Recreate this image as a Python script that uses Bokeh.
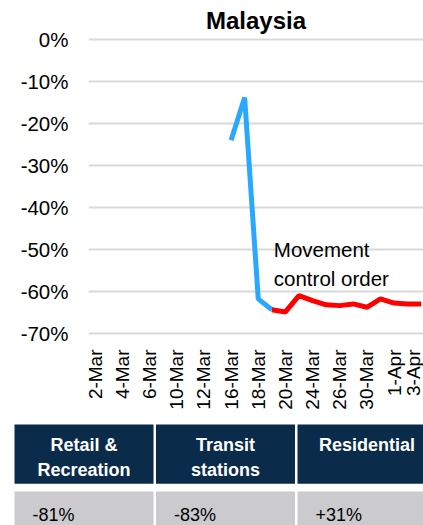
import math
from bokeh.plotting import figure
from bokeh.layouts import column
from bokeh.models import Range1d, FixedTicker, NumeralTickFormatter, ColumnDataSource
from bokeh.core.properties import value
from bokeh.embed import file_html
from bokeh.resources import INLINE

# ---------------- data ----------------
dates = ["2-Mar", "3-Mar", "4-Mar", "5-Mar", "6-Mar", "9-Mar", "10-Mar", "11-Mar",
         "12-Mar", "13-Mar", "16-Mar", "17-Mar", "18-Mar", "19-Mar", "20-Mar",
         "23-Mar", "24-Mar", "25-Mar", "26-Mar", "27-Mar", "30-Mar", "31-Mar",
         "1-Apr", "2-Apr", "3-Apr"]
nan = float("nan")
before_mco = [nan] * 10 + [-0.240, -0.138, -0.618, -0.644] + [nan] * 11
after_mco = [nan] * 13 + [-0.644, -0.649, -0.610, -0.622, -0.632, -0.634, -0.630,
                          -0.638, -0.618, -0.628, -0.630, -0.630]
y_ticks = [-0.7, -0.6, -0.5, -0.4, -0.3, -0.2, -0.1, 0.0]
title_text = "Malaysia"
annotation = "Movement\ncontrol order"
annotation_date = "19-Mar"
annotation_level = -0.472

table_headers = ["Retail &\nRecreation", "Transit\nstations", "Residential"]
table_values = ["-81%", "-83%", "+31%"]

FONT = "Liberation Sans"
idx = list(range(len(dates)))

# ---------------- chart ----------------
p = figure(width=423, height=418, output_backend="svg", toolbar_location=None,
           x_range=Range1d(-0.5, 24.17), y_range=Range1d(-0.71, 0.01),
           min_border_left=88, min_border_right=0, min_border_top=35,
           min_border_bottom=81, title=title_text, frame_align=False)
p.outline_line_color = None
p.background_fill_color = "white"
p.border_fill_color = "white"
p.title.align = "center"
p.title.vertical_align = "top"
p.title.text_font = FONT
p.title.text_font_size = "24px"
p.title.text_font_style = "bold"
p.title.text_color = "black"
p.title.standoff = 0

p.xgrid.visible = False
p.ygrid.grid_line_color = "#D9D9D9"
p.ygrid.grid_line_width = 2

p.yaxis.ticker = FixedTicker(ticks=y_ticks)
p.yaxis.formatter = NumeralTickFormatter(format="0%")
p.yaxis.axis_line_color = None
p.yaxis.major_tick_line_color = None
p.yaxis.minor_tick_line_color = None
p.yaxis.major_tick_out = 0
p.yaxis.major_tick_in = 0
p.yaxis.major_label_standoff = 20
p.yaxis.major_label_text_font = FONT
p.yaxis.major_label_text_font_size = "20.5px"
p.yaxis.major_label_text_color = "black"

p.xaxis.ticker = FixedTicker(ticks=idx[::2])
p.xaxis.major_label_overrides = {i: dates[i] for i in idx[::2]}
p.xaxis.major_label_orientation = math.pi / 2
p.xaxis.axis_line_color = None
p.xaxis.major_tick_line_color = None
p.xaxis.minor_tick_line_color = None
p.xaxis.major_tick_out = 0
p.xaxis.major_tick_in = 0
p.xaxis.major_label_standoff = 12
p.xaxis.major_label_text_font = FONT
p.xaxis.major_label_text_font_size = "19px"
p.xaxis.major_label_text_color = "black"

src = ColumnDataSource(dict(x=idx, before=before_mco, after=after_mco))
p.line("x", "before", source=src, line_color="#29A8FF", line_width=5)
p.line("x", "after", source=src, line_color="#FF0000", line_width=5)

p.text(x=[dates.index(annotation_date)], y=[annotation_level], text=[annotation],
       x_offset=2, text_font=value(FONT), text_font_size="20.5px", text_color="black",
       text_baseline="top", text_align="left", text_line_height=1.27)

# ---------------- table ----------------
col_pitch = 141.5
cell_w = 139 / col_pitch
x0 = -14 / col_pitch
t = figure(width=423, height=107, output_backend="svg", toolbar_location=None,
           x_range=Range1d(x0, x0 + 423 / col_pitch),
           y_range=Range1d(107, 0), min_border=0, frame_align=False,
           x_axis_type=None, y_axis_type=None)
t.outline_line_color = None
t.xgrid.visible = False
t.ygrid.visible = False
t.background_fill_color = "white"
t.border_fill_color = "white"

cols = list(range(len(table_headers)))
t.quad(left=cols, right=[c + cell_w for c in cols], top=[6] * 3, bottom=[65.3] * 3,
       fill_color="#0B2B4A", line_color=None)
t.quad(left=cols, right=[c + cell_w for c in cols], top=[73] * 3, bottom=[120] * 3,
       fill_color="#CBCBCD", line_color=None)
t.text(x=[c + cell_w / 2 for c in cols], y=[16.3] * 3, text=table_headers,
       text_font=value(FONT), text_font_size="18px", text_font_style="bold",
       text_color="white", text_align="center", text_baseline="top",
       text_line_height=1.26)
t.text(x=[c + 18 / col_pitch for c in cols], y=[96.3] * 3, text=table_values,
       text_font=value(FONT), text_font_size="18px", text_color="black",
       text_align="left", text_baseline="alphabetic")

layout = column(p, t, spacing=0)
open("out.html", "w").write(file_html(layout, INLINE))
